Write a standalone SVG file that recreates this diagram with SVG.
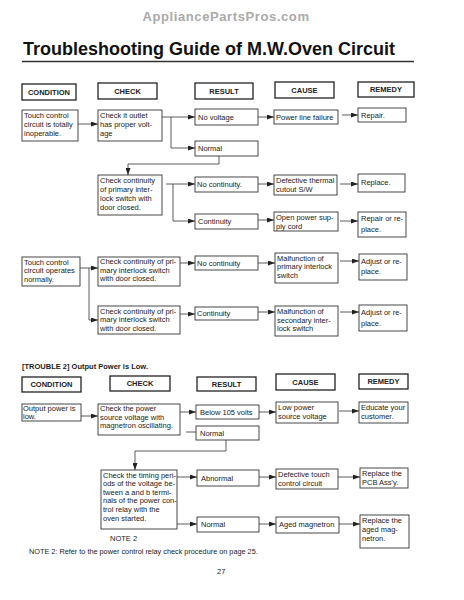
<svg xmlns="http://www.w3.org/2000/svg" width="464" height="600" viewBox="0 0 464 600">
<style>
.bg{fill:#fff}
.n rect{fill:#fff;stroke:#333;stroke-width:0.9}
.hd rect{fill:#fff;stroke:#222;stroke-width:1.3}
text{font-family:"Liberation Sans",Arial,sans-serif;fill:#222}
.t{font-size:7.5px}
.h{font-size:7.5px;font-weight:bold;text-anchor:middle}
.c path{fill:none;stroke:#333;stroke-width:0.8}
</style>
<defs>
<marker id="ar" markerUnits="userSpaceOnUse" markerWidth="7" markerHeight="5" refX="7" refY="2.5" orient="auto">
<path d="M0,0 L7,2.5 L0,5 z" fill="#222"/>
</marker>
</defs>
<rect class="bg" x="0" y="0" width="464" height="600"/>
<text x="226" y="21" font-size="13" font-weight="bold" letter-spacing="0.6" text-anchor="middle" style="fill:#aaa">AppliancePartsPros.com</text>
<text x="23" y="55" font-size="18" font-weight="bold" style="fill:#111">Troubleshooting Guide of M.W.Oven Circuit</text>
<line x1="22" y1="61.5" x2="414" y2="61.5" stroke="#333" stroke-width="1.4"/>

<g id="headers1" class="hd">
<rect x="22" y="84" width="54" height="16"/><text class="h" x="49" y="94.7">CONDITION</text>
<rect x="98" y="83" width="59" height="16"/><text class="h" x="127.5" y="93.7">CHECK</text>
<rect x="195" y="83" width="58" height="16"/><text class="h" x="224" y="93.7">RESULT</text>
<rect x="275" y="82" width="59" height="16"/><text class="h" x="304.5" y="92.7">CAUSE</text>
<rect x="358" y="82" width="56" height="15"/><text class="h" x="386" y="92.2">REMEDY</text>
</g>

<g id="cond1" class="n"><rect x="22" y="110" width="56" height="31"/><text class="t" x="24" y="117.5">Touch control</text><text class="t" x="24" y="126.5">circuit is totally</text><text class="t" x="24" y="135.5">inoperable.</text></g>
<g id="check1" class="n"><rect x="98" y="110" width="64" height="31"/><text class="t" x="100" y="117.5">Check it outlet</text><text class="t" x="100" y="126.5">has proper volt-</text><text class="t" x="100" y="135.5">age</text></g>
<g id="res1" class="n"><rect x="195" y="109" width="63" height="16"/><text class="t" x="198" y="119.5">No voltage</text></g>
<g id="res2" class="n"><rect x="195" y="141" width="63" height="15"/><text class="t" x="198" y="151">Normal</text></g>
<g id="cause1" class="n"><rect x="274" y="110" width="64" height="14"/><text class="t" x="276" y="119.5">Power line failure</text></g>
<g id="rem1" class="n"><rect x="358" y="108" width="48" height="14"/><text class="t" x="361" y="117.5">Repair.</text></g>

<g id="check2" class="n"><rect x="98" y="175" width="64" height="40"/><text class="t" x="100" y="182.5">Check continuity</text><text class="t" x="100" y="191.5">of primary inter-</text><text class="t" x="100" y="200.5">lock switch with</text><text class="t" x="100" y="209.5">door closed.</text></g>
<g id="res3" class="n"><rect x="195" y="177" width="63" height="15"/><text class="t" x="197" y="187">No continuity.</text></g>
<g id="res4" class="n"><rect x="195" y="214" width="63" height="15"/><text class="t" x="198" y="224">Continuity</text></g>
<g id="cause2" class="n"><rect x="274" y="175" width="63" height="20"/><text class="t" x="276" y="182.5">Defective thermal</text><text class="t" x="276" y="191.5">cutout S/W</text></g>
<g id="rem2" class="n"><rect x="358" y="174" width="47" height="18"/><text class="t" x="361" y="184.5">Replace.</text></g>
<g id="cause3" class="n"><rect x="274" y="212" width="64" height="19"/><text class="t" x="276" y="219.5">Open power sup-</text><text class="t" x="276" y="228.5">ply cord</text></g>
<g id="rem3" class="n"><rect x="358" y="212" width="48" height="25"/><text class="t" x="361" y="221">Repair or re-</text><text class="t" x="361" y="232">place.</text></g>

<g id="cond2" class="n"><rect x="22" y="257" width="58" height="29"/><text class="t" x="24" y="264.5">Touch control</text><text class="t" x="24" y="273">circuit operates</text><text class="t" x="24" y="281.5">normally.</text></g>
<g id="check3" class="n"><rect x="98" y="257" width="82" height="29"/><text class="t" x="100" y="264">Check continuity of pri-</text><text class="t" x="100" y="272.5">mary interlock switch</text><text class="t" x="100" y="281">with door closed.</text></g>
<g id="check4" class="n"><rect x="98" y="306" width="82" height="28"/><text class="t" x="100" y="313.5">Check continuity of pri-</text><text class="t" x="100" y="322">mary interlock switch</text><text class="t" x="100" y="330.5">with door closed.</text></g>
<g id="res5" class="n"><rect x="195" y="256" width="63" height="14"/><text class="t" x="197" y="265.5">No continuity</text></g>
<g id="res6" class="n"><rect x="195" y="307" width="63" height="13"/><text class="t" x="197" y="316">Continuity</text></g>
<g id="cause4" class="n"><rect x="275" y="253" width="63" height="30"/><text class="t" x="277" y="260.5">Malfunction of</text><text class="t" x="277" y="269">primary  interlock</text><text class="t" x="277" y="277.5">switch</text></g>
<g id="rem4" class="n"><rect x="359" y="254" width="48" height="26"/><text class="t" x="361" y="263.5">Adjust or re-</text><text class="t" x="361" y="274">place.</text></g>
<g id="cause5" class="n"><rect x="275" y="306" width="63" height="30"/><text class="t" x="277" y="313.5">Malfunction of</text><text class="t" x="277" y="322.5">secondary inter-</text><text class="t" x="277" y="331">lock switch</text></g>
<g id="rem5" class="n"><rect x="359" y="305" width="48" height="26"/><text class="t" x="361" y="314.5">Adjust or re-</text><text class="t" x="361" y="325.5">place.</text></g>

<text x="22" y="369" font-size="7.5" font-weight="bold">[TROUBLE 2] Output Power is Low.</text>

<g id="headers2" class="hd">
<rect x="22" y="377" width="59" height="15"/><text class="h" x="51.5" y="387.2">CONDITION</text>
<rect x="110" y="376" width="60" height="15"/><text class="h" x="140" y="386.2">CHECK</text>
<rect x="197" y="377" width="59" height="14"/><text class="h" x="226.5" y="386.7">RESULT</text>
<rect x="276" y="374" width="59" height="16"/><text class="h" x="305.5" y="384.7">CAUSE</text>
<rect x="359" y="374" width="49" height="15"/><text class="h" x="383.5" y="384.2">REMEDY</text>
</g>

<g id="cond3" class="n"><rect x="22" y="404" width="59" height="17"/><text class="t" x="23" y="411">Output power is</text><text class="t" x="23" y="419">low.</text></g>
<g id="check5" class="n"><rect x="98" y="404" width="82" height="31"/><text class="t" x="100" y="411">Check the power</text><text class="t" x="100" y="419.5">source voltage with</text><text class="t" x="100" y="428">magnetron oscillating.</text></g>
<g id="res7" class="n"><rect x="196" y="405" width="63" height="14"/><text class="t" x="200" y="414.5">Below 105 volts</text></g>
<g id="res8" class="n"><rect x="196" y="426" width="63" height="14"/><text class="t" x="200" y="436">Normal</text></g>
<g id="cause6" class="n"><rect x="276" y="402" width="62" height="21"/><text class="t" x="278" y="410">Low power</text><text class="t" x="278" y="419">source voltage</text></g>
<g id="rem6" class="n"><rect x="359" y="402" width="49" height="21"/><text class="t" x="361" y="410">Educate your</text><text class="t" x="361" y="419">customer.</text></g>

<g id="check6" class="n"><rect x="101" y="470" width="76" height="59"/><text class="t" x="103" y="477.5">Check the timing peri-</text><text class="t" x="103" y="486">ods of the voltage be-</text><text class="t" x="103" y="494.5">tween a and b termi-</text><text class="t" x="103" y="503.2">nals of the power con-</text><text class="t" x="103" y="511.8">trol relay with the</text><text class="t" x="103" y="520.5">oven started.</text></g>
<g id="res9" class="n"><rect x="197" y="470" width="62" height="16"/><text class="t" x="201" y="480.5">Abnormal</text></g>
<g id="res10" class="n"><rect x="197" y="517" width="62" height="15"/><text class="t" x="201" y="527">Normal</text></g>
<g id="cause7" class="n"><rect x="276" y="469" width="62" height="20"/><text class="t" x="278" y="476.5">Defective touch</text><text class="t" x="278" y="485.5">control circuit</text></g>
<g id="rem7" class="n"><rect x="360" y="468" width="48" height="20"/><text class="t" x="362" y="476">Replace the</text><text class="t" x="362" y="484.5">PCB Ass'y.</text></g>
<g id="cause8" class="n"><rect x="276" y="517" width="63" height="16"/><text class="t" x="279" y="527">Aged magnetron</text></g>
<g id="rem8" class="n"><rect x="360" y="515" width="49" height="33"/><text class="t" x="362" y="523">Replace the</text><text class="t" x="362" y="532">aged mag-</text><text class="t" x="362" y="540.5">netron.</text></g>

<text x="110" y="541" font-size="7.5">NOTE 2</text>
<text x="29" y="553.5" font-size="7.3">NOTE 2: Refer to the power control relay check procedure on page 25.</text>
<text x="217" y="574" font-size="7.5">27</text>

<g id="connectors" class="c">
<path d="M78,124 H98" marker-end="url(#ar)"/>
<path d="M162,117 H195" marker-end="url(#ar)"/>
<path d="M171,117 V148 H195" marker-end="url(#ar)"/>
<path d="M258,117 H274" marker-end="url(#ar)"/>
<path d="M342,115 H358" marker-end="url(#ar)"/>
<path d="M219,156 V164 H128 V175" marker-end="url(#ar)"/>
<path d="M166,184 H195" marker-end="url(#ar)"/>
<path d="M173,184 V221 H195" marker-end="url(#ar)"/>
<path d="M258,184 H274" marker-end="url(#ar)"/>
<path d="M340,184 H358" marker-end="url(#ar)"/>
<path d="M258,220 H274" marker-end="url(#ar)"/>
<path d="M340,221 H358" marker-end="url(#ar)"/>
<path d="M80,268 H98" marker-end="url(#ar)"/>
<path d="M89,268 V320 H98" marker-end="url(#ar)"/>
<path d="M180,263 H195" marker-end="url(#ar)"/>
<path d="M180,314 H195" marker-end="url(#ar)"/>
<path d="M258,263 H275" marker-end="url(#ar)"/>
<path d="M340,261 H359" marker-end="url(#ar)"/>
<path d="M258,312 H275" marker-end="url(#ar)"/>
<path d="M340,312 H359" marker-end="url(#ar)"/>
<path d="M81,416 H98" marker-end="url(#ar)"/>
<path d="M180,412 H196" marker-end="url(#ar)"/>
<path d="M186,432 H196"/>
<path d="M259,412 H276" marker-end="url(#ar)"/>
<path d="M339,411 H359" marker-end="url(#ar)"/>
<path d="M226,440 V451 H135 V470" marker-end="url(#ar)"/>
<path d="M177,477 H197" marker-end="url(#ar)"/>
<path d="M177,524 H197" marker-end="url(#ar)"/>
<path d="M259,477 H276" marker-end="url(#ar)"/>
<path d="M338,477 H360" marker-end="url(#ar)"/>
<path d="M259,524 H276" marker-end="url(#ar)"/>
<path d="M339,524 H360" marker-end="url(#ar)"/>
</g>
</svg>
